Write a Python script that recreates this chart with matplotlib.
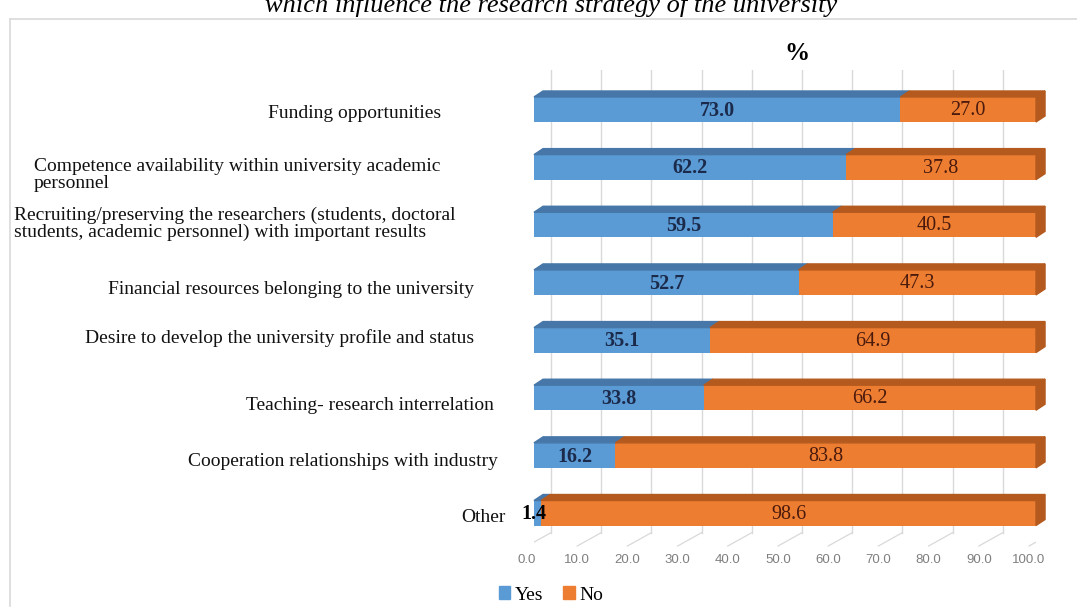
import matplotlib.pyplot as plt
from matplotlib.patches import Polygon, Rectangle
from matplotlib.lines import Line2D

categories = [
    "Funding opportunities",
    "Competence availability within university academic\npersonnel",
    "Recruiting/preserving the researchers (students, doctoral\nstudents, academic personnel) with important results",
    "Financial resources belonging to the university",
    "Desire to develop the university profile and status",
    "Teaching- research interrelation",
    "Cooperation relationships with industry",
    "Other",
]
yes_vals = [73.0, 62.2, 59.5, 52.7, 35.1, 33.8, 16.2, 1.4]
no_vals = [27.0, 37.8, 40.5, 47.3, 64.9, 66.2, 83.8, 98.6]
ticks = [0, 10, 20, 30, 40, 50, 60, 70, 80, 90, 100]

W, H = 1077, 610
SERIF = "Liberation Serif"
BLUE, BLUE_TOP = "#5b9bd5", "#4677a8"
ORANGE, ORANGE_TOP = "#ed7d31", "#b55a1e"
GRID = "#d9d9d9"

# label anchors (left x, centre y) in pixels
label_pos = [(268, 114), (34, 175), (14, 224), (108, 290),
             (85, 338), (246, 405), (188, 462), (461, 518)]

fig = plt.figure(figsize=(W / 100, H / 100), dpi=100)
ax = fig.add_axes([534 / W, 1 - 548 / H, 502 / W, 478 / H])
ax.set_xlim(0, 100)
ax.set_ylim(7.607, -0.685)
ax.axis("off")

# frame round the picture
fig.add_artist(Line2D([10 / W, 1.0], [1 - 19 / H] * 2, color=GRID, lw=1.2))
fig.add_artist(Line2D([10 / W] * 2, [1 - 19 / H, 1 - 606 / H], color=GRID, lw=1.2))

# 3d geometry (data units)
h = 0.434
dx, dy = 1.8, -0.104
front_y, back_y, top_y = 7.573, 7.34, -0.685
tick_y = 7.816

for v in ticks:
    ax.plot([v + 3.4, v + 3.4], [back_y, top_y], color=GRID, lw=1, zorder=0)
    ax.plot([v - 1.4, v + 3.4], [front_y, back_y], color=GRID, lw=0.9, zorder=0)
    ax.text(v - 1.4, tick_y, f"{v:.1f}", ha="center", va="center",
            fontsize=9.5, color="#7f7f7f", family="Liberation Sans", clip_on=False)

y = list(range(len(categories)))
ax.barh(y, yes_vals, height=h, color=BLUE, zorder=2)
ax.barh(y, no_vals, left=yes_vals, height=h, color=ORANGE, zorder=2)

for i in y:
    top = i - h / 2
    bot = i + h / 2
    yv, nv = yes_vals[i], no_vals[i]
    ax.add_patch(Polygon([(0, top), (yv, top), (yv + dx, top + dy), (dx, top + dy)],
                         closed=True, color=BLUE_TOP, zorder=2, clip_on=False))
    ax.add_patch(Polygon([(yv, top), (yv + nv, top), (yv + nv + dx, top + dy), (yv + dx, top + dy)],
                         closed=True, color=ORANGE_TOP, zorder=2, clip_on=False))
    end = yv + nv
    ax.add_patch(Polygon([(end, top), (end + dx, top + dy), (end + dx, bot + dy), (end, bot)],
                         closed=True, color=ORANGE_TOP, zorder=2, clip_on=False))
    ycol = "black" if yv < 5 else "#1b2a4a"
    ax.text(yv / 2 - (0.8 if yv < 5 else 0), i + 0.02, f"{yv:.1f}", ha="center", va="center",
            fontsize=14.5, fontweight="bold", color=ycol, family=SERIF, zorder=3)
    ax.text(yv + nv / 2, i + 0.02, f"{nv:.1f}", ha="center", va="center", fontsize=14.5,
            color="#4a1a0c", family=SERIF, zorder=3)

for lab, (lx, ly) in zip(categories, label_pos):
    fig.text(lx / W, 1 - ly / H, lab, ha="left", va="center", fontsize=14,
             family=SERIF, linespacing=0.95, color="#111111")

fig.text(797 / W, 1 - 53 / H, "%", ha="center", va="center", fontsize=18,
         fontweight="bold", family=SERIF)
fig.text(551 / W, 1 - 12 / H, "which influence the research strategy of the university",
         ha="center", va="baseline", fontsize=19, style="italic", family=SERIF)

handles = [Rectangle((0, 0), 1, 1, color=BLUE), Rectangle((0, 0), 1, 1, color=ORANGE)]
fig.legend(handles, ["Yes", "No"], loc="center left", bbox_to_anchor=(481 / W, 1 - 595 / H),
           ncol=2, frameon=False, prop={"family": SERIF, "size": 14},
           handlelength=0.6, handleheight=0.6, handletextpad=0.25, columnspacing=1.0)

fig.savefig("out.png", dpi=100)
